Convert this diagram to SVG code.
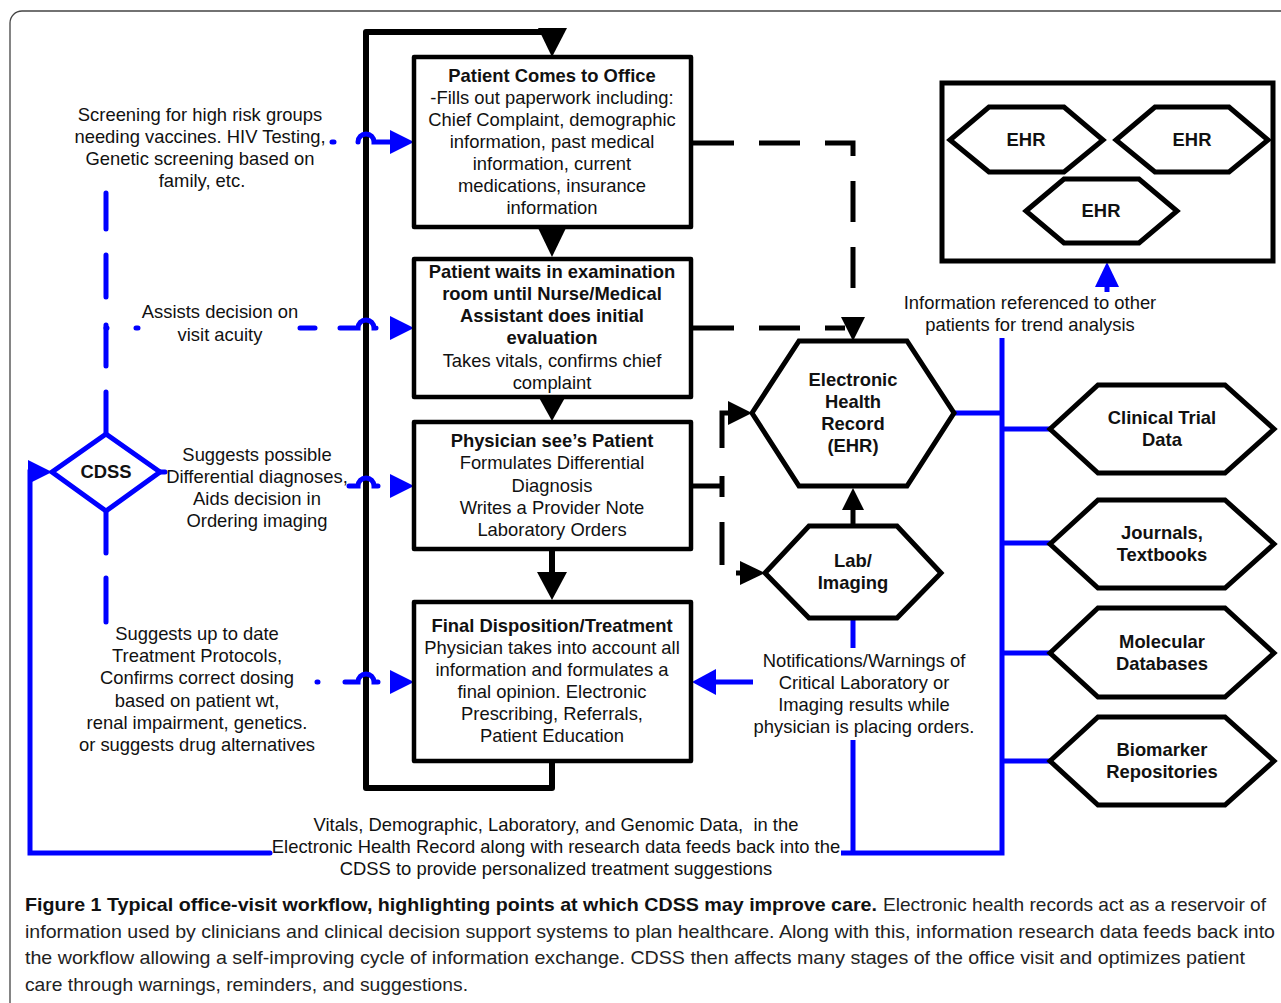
<svg xmlns="http://www.w3.org/2000/svg" width="1281" height="1003" viewBox="0 0 1281 1003">
<style>
text{font-family:"Liberation Sans",Arial,sans-serif;font-size:18.4px;fill:#111;text-anchor:middle}
.b{font-weight:bold}
.box{fill:#fff;stroke:#000;stroke-width:4.5;stroke-linejoin:round}
.hex{fill:#fff;stroke:#000;stroke-width:5;stroke-linejoin:miter}
.blk{fill:none;stroke:#000;stroke-width:6;stroke-linejoin:round}
.dsh{fill:none;stroke:#000;stroke-width:5;stroke-dasharray:41 25}
.bl{fill:none;stroke:#0000ff;stroke-width:5;stroke-linecap:round;stroke-linejoin:miter}
.blf{fill:#0000ff}
.bkf{fill:#000}
.cap{text-anchor:start;font-size:19px;fill:#222}
</style>
<rect x="10" y="11" width="1300" height="1020" rx="12" fill="#fff" stroke="#444" stroke-width="1.3"/>

<g id="connectors">
<path class="blk" d="M552,32 H366 V788 H552 V762"/>
<polygon class="bkf" points="538,28 567,28 552,57"/>
<polygon class="bkf" points="538,228 566,228 552,257"/>
<polygon class="bkf" points="537,394 567,394 552,421"/>
<path class="blk" d="M552,549 V574"/>
<polygon class="bkf" points="537,572 567,572 552,600"/>
<path class="dsh" d="M693,143 H853 V298"/>
<path class="dsh" d="M693,328 H845"/>
<polygon class="bkf" points="841,317 865,317 853,341"/>
<path fill="none" stroke="#000" stroke-width="5" d="M693,486 H722 M722,476 V497"/>
<path fill="none" stroke="#000" stroke-width="5" d="M730,413 H722 V448 M722,522 V565 M736,573 H742"/>
<polygon class="bkf" points="728,401 728,425 752,413"/>
<polygon class="bkf" points="740,561 740,585 765,573"/>
<path fill="none" stroke="#000" stroke-width="5" d="M853,526 V506"/>
<polygon class="bkf" points="842,510 864,510 853,488"/>

<path class="bl" d="M106,434 V392 M106,366 V325 M106,297 V255 M106,229 V193"/>
<path class="bl" d="M106,511 V553 M106,578 V622"/>
<path class="bl" d="M160,472 H165"/>
<path class="bl" d="M270,853 H30 V472 H36"/>
<polygon class="blf" points="28,460 28,484 52,472"/>
<path class="bl" d="M332,142 H334 M358,142 A8,8 0 0 1 374,142 H392"/>
<polygon class="blf" points="390,130 390,154 414,142"/>
<path class="bl" d="M106,328 H107 M136,328 H138 M300,328 H315 M340,328 H358 A8,8 0 0 1 374,328 H376"/>
<polygon class="blf" points="390,316 390,340 414,328"/>
<path class="bl" d="M349,486 H358 A8,8 0 0 1 374,486 H378"/>
<polygon class="blf" points="390,474 390,498 414,486"/>
<path class="bl" d="M317,682 H318 M345,682 H358 A8,8 0 0 1 374,682 H378"/>
<polygon class="blf" points="390,670 390,694 414,682"/>
<path class="bl" style="stroke-linecap:butt" d="M841,853 H1002 V338 M853,853 V740 M853,618 V648 M954,413 H1002 M1002,429 H1050 M1002,543 H1050 M1002,653 H1050 M1002,761 H1050"/>
<path class="bl" style="stroke-linecap:butt" d="M753,682 H712"/>
<polygon class="blf" points="692,682 716,669 716,695"/>
<path class="bl" style="stroke-linecap:butt" d="M1107,285 V292"/>
<polygon class="blf" points="1107,262 1095,287 1119,287"/>
</g>

<g id="box1">
<rect class="box" x="414" y="57" width="277" height="170"/>
<text x="552" y="82" class="b">Patient Comes to Office</text>
<text x="552" y="104">-Fills out paperwork including:</text>
<text x="552" y="126">Chief Complaint, demographic</text>
<text x="552" y="148">information, past medical</text>
<text x="552" y="170">information, current</text>
<text x="552" y="192">medications, insurance</text>
<text x="552" y="214">information</text>
</g>
<g id="box2">
<rect class="box" x="414" y="259" width="277" height="138"/>
<text x="552" y="278" class="b">Patient waits in examination</text>
<text x="552" y="300" class="b">room until Nurse/Medical</text>
<text x="552" y="322" class="b">Assistant does initial</text>
<text x="552" y="344" class="b">evaluation</text>
<text x="552" y="367">Takes vitals, confirms chief</text>
<text x="552" y="389">complaint</text>
</g>
<g id="box3">
<rect class="box" x="414" y="422" width="277" height="127"/>
<text x="552" y="447" class="b">Physician see’s Patient</text>
<text x="552" y="469">Formulates Differential</text>
<text x="552" y="492">Diagnosis</text>
<text x="552" y="514">Writes a Provider Note</text>
<text x="552" y="536">Laboratory Orders</text>
</g>
<g id="box4">
<rect class="box" x="414" y="602" width="277" height="159"/>
<text x="552" y="632" class="b">Final Disposition/Treatment</text>
<text x="552" y="654">Physician takes into account all</text>
<text x="552" y="676">information and formulates a</text>
<text x="552" y="698">final opinion. Electronic</text>
<text x="552" y="720">Prescribing, Referrals,</text>
<text x="552" y="742">Patient Education</text>
</g>

<g id="cdss">
<polygon points="106,434 160,472 106,511 52,472" fill="#fff" stroke="#0000ff" stroke-width="5"/>
<text x="106" y="478" class="b">CDSS</text>
</g>

<g id="label-screening">
<text x="200" y="121">Screening for high risk groups</text>
<text x="200" y="143">needing vaccines. HIV Testing,</text>
<text x="200" y="165">Genetic screening based on</text>
<text x="202" y="187">family, etc.</text>
</g>
<g id="label-acuity">
<text x="220" y="318">Assists decision on</text>
<text x="220" y="341">visit acuity</text>
</g>
<g id="label-differential">
<text x="257" y="461">Suggests possible</text>
<text x="257" y="483">Differential diagnoses,</text>
<text x="257" y="505">Aids decision in</text>
<text x="257" y="527">Ordering imaging</text>
</g>
<g id="label-treatment">
<text x="197" y="640">Suggests up to date</text>
<text x="197" y="662">Treatment Protocols,</text>
<text x="197" y="684">Confirms correct dosing</text>
<text x="197" y="707">based on patient wt,</text>
<text x="197" y="729">renal impairment, genetics.</text>
<text x="197" y="751">or suggests drug alternatives</text>
</g>
<g id="label-feedback">
<text x="556" y="831">Vitals, Demographic, Laboratory, and Genomic Data,&#160; in the</text>
<text x="556" y="853">Electronic Health Record along with research data feeds back into the</text>
<text x="556" y="875">CDSS to provide personalized treatment suggestions</text>
</g>
<g id="label-notifications">
<text x="864" y="667">Notifications/Warnings of</text>
<text x="864" y="689">Critical Laboratory or</text>
<text x="864" y="711">Imaging results while</text>
<text x="864" y="733">physician is placing orders.</text>
</g>
<g id="label-trend">
<text x="1030" y="309">Information referenced to other</text>
<text x="1030" y="331">patients for trend analysis</text>
</g>

<g id="ehr">
<polygon class="hex" points="752,413 799,341 907,341 954,413 907,486 799,486"/>
<text x="853" y="386" class="b">Electronic</text>
<text x="853" y="408" class="b">Health</text>
<text x="853" y="430" class="b">Record</text>
<text x="853" y="452" class="b">(EHR)</text>
</g>
<g id="lab">
<polygon class="hex" points="765,573 809,526 897,526 941,573 897,618 809,618"/>
<text x="853" y="567" class="b">Lab/</text>
<text x="853" y="589" class="b">Imaging</text>
</g>

<g id="ehr-group">
<rect x="942" y="83" width="331" height="178" fill="#fff" stroke="#000" stroke-width="5"/>
<polygon class="hex" points="950,140 989,107 1064,107 1103,140 1064,172 989,172"/>
<text x="1026" y="146" class="b">EHR</text>
<polygon class="hex" points="1116,140 1155,107 1229,107 1268,140 1229,172 1155,172"/>
<text x="1192" y="146" class="b">EHR</text>
<polygon class="hex" points="1026,211 1064,179 1139,179 1177,211 1139,243 1064,243"/>
<text x="1101" y="217" class="b">EHR</text>
</g>

<g id="clinical-trial">
<polygon class="hex" points="1050,429 1098,385 1225,385 1274,429 1225,473 1098,473"/>
<text x="1162" y="424" class="b">Clinical Trial</text>
<text x="1162" y="446" class="b">Data</text>
</g>
<g id="journals">
<polygon class="hex" points="1050,544 1098,500 1225,500 1274,544 1225,588 1098,588"/>
<text x="1162" y="539" class="b">Journals,</text>
<text x="1162" y="561" class="b">Textbooks</text>
</g>
<g id="molecular">
<polygon class="hex" points="1050,653 1098,608 1225,608 1274,653 1225,697 1098,697"/>
<text x="1162" y="648" class="b">Molecular</text>
<text x="1162" y="670" class="b">Databases</text>
</g>
<g id="biomarker">
<polygon class="hex" points="1050,761 1098,717 1225,717 1274,761 1225,805 1098,805"/>
<text x="1162" y="756" class="b">Biomarker</text>
<text x="1162" y="778" class="b">Repositories</text>
</g>

<g id="caption">
<text class="cap" y="911"><tspan x="25" font-weight="bold" fill="#111" textLength="852" lengthAdjust="spacingAndGlyphs">Figure 1 Typical office-visit workflow, highlighting points at which CDSS may improve care.</tspan><tspan x="883" textLength="383" lengthAdjust="spacingAndGlyphs">Electronic health records act as a reservoir of</tspan></text>
<text class="cap" x="25" y="938" textLength="1250" lengthAdjust="spacingAndGlyphs">information used by clinicians and clinical decision support systems to plan healthcare. Along with this, information research data feeds back into</text>
<text class="cap" x="25" y="964" textLength="1220" lengthAdjust="spacingAndGlyphs">the workflow allowing a self-improving cycle of information exchange. CDSS then affects many stages of the office visit and optimizes patient</text>
<text class="cap" x="25" y="991" textLength="443" lengthAdjust="spacingAndGlyphs">care through warnings, reminders, and suggestions.</text>
</g>
</svg>
